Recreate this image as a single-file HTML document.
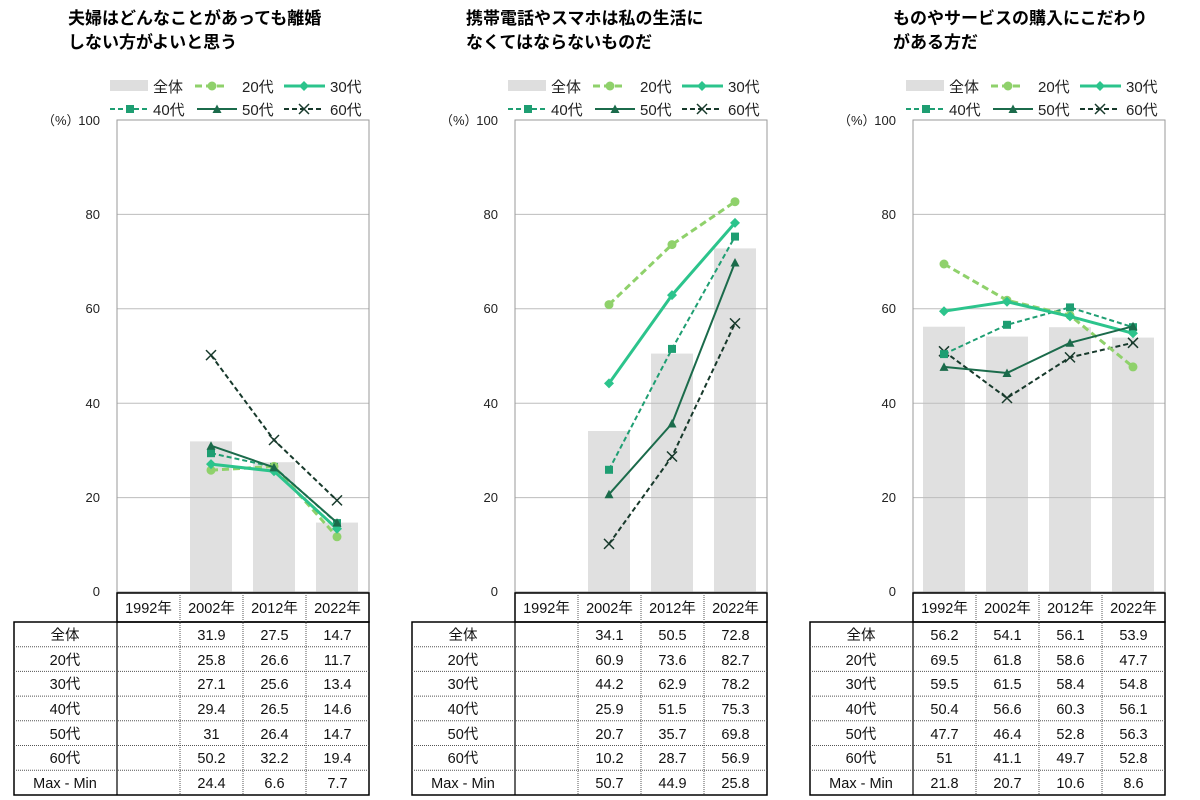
<!DOCTYPE html>
<html><head><meta charset="utf-8"><style>
body{margin:0;background:#fff;}
svg{display:block;font-family:"Liberation Sans","Noto Sans CJK JP",sans-serif;}
.t{font-size:17px;font-weight:bold;fill:#000}
.lg{font-size:15px;fill:#222}
.ax{font-size:13px;fill:#222}
.tb{font-size:14.5px;fill:#111}
</style></head><body>
<svg width="1200" height="800" viewBox="0 0 1200 800">
<defs>
<marker id="m20" markerUnits="userSpaceOnUse" markerWidth="12" markerHeight="12" refX="6" refY="6"><circle cx="6" cy="6" r="4.5" fill="#8fd16b"/></marker>
<marker id="m30" markerUnits="userSpaceOnUse" markerWidth="12" markerHeight="12" refX="6" refY="6"><path d="M6 1L11 6L6 11L1 6Z" fill="#2cc48c"/></marker>
<marker id="m40" markerUnits="userSpaceOnUse" markerWidth="12" markerHeight="12" refX="6" refY="6"><rect x="2" y="2" width="8" height="8" fill="#1e9e72"/></marker>
<marker id="m50" markerUnits="userSpaceOnUse" markerWidth="12" markerHeight="12" refX="6" refY="6"><path d="M6 1.5L10.5 10H1.5Z" fill="#1b6b4b"/></marker>
<marker id="m60" markerUnits="userSpaceOnUse" markerWidth="14" markerHeight="14" refX="7" refY="7"><path d="M2 2L12 12M12 2L2 12" stroke="#17392b" stroke-width="1.5"/></marker>
<g id="frame">
<line x1="117" y1="214.4" x2="369" y2="214.4" stroke="#bdbdbd"/>
<line x1="117" y1="308.8" x2="369" y2="308.8" stroke="#bdbdbd"/>
<line x1="117" y1="403.2" x2="369" y2="403.2" stroke="#bdbdbd"/>
<line x1="117" y1="497.6" x2="369" y2="497.6" stroke="#bdbdbd"/>
<rect x="117" y="120" width="252" height="472" fill="none" stroke="#9a9a9a"/>
<text class="ax" x="100" y="125" text-anchor="end">100</text>
<text class="ax" x="100" y="219" text-anchor="end">80</text>
<text class="ax" x="100" y="313" text-anchor="end">60</text>
<text class="ax" x="100" y="408" text-anchor="end">40</text>
<text class="ax" x="100" y="502" text-anchor="end">20</text>
<text class="ax" x="100" y="596" text-anchor="end">0</text>
<text class="ax" x="42" y="125" fill="#555">（%）</text>
<rect x="110" y="80" width="38" height="11" fill="#dedede"/>
<text class="lg" x="153" y="92">全体</text>
<line x1="195" y1="86" x2="228" y2="86" stroke="#8fd16b" stroke-width="3" stroke-dasharray="7,4" marker-mid="url(#m20)"/>
<polyline points="195,86 212,86 228,86" fill="none" stroke="#8fd16b" stroke-width="3" stroke-dasharray="7,4" marker-mid="url(#m20)"/>
<text class="lg" x="242" y="92">20代</text>
<polyline points="284,86 304,86 325,86" fill="none" stroke="#2cc48c" stroke-width="3" marker-mid="url(#m30)"/>
<text class="lg" x="330" y="92">30代</text>
<polyline points="110,109 130,109 150,109" fill="none" stroke="#1e9e72" stroke-width="2" stroke-dasharray="5,3" marker-mid="url(#m40)"/>
<text class="lg" x="153" y="115">40代</text>
<polyline points="197,109 217,109 237,109" fill="none" stroke="#1b6b4b" stroke-width="2" marker-mid="url(#m50)"/>
<text class="lg" x="242" y="115">50代</text>
<polyline points="284,109 304,109 324,109" fill="none" stroke="#17392b" stroke-width="2" stroke-dasharray="5,3" marker-mid="url(#m60)"/>
<text class="lg" x="330" y="115">60代</text>
<!-- table -->
<rect x="117" y="593" width="252" height="29" fill="none" stroke="#000" stroke-width="1.5"/>
<rect x="14" y="622" width="355" height="173" fill="none" stroke="#000" stroke-width="1.5"/>
<line x1="117" y1="622" x2="117" y2="795" stroke="#000" stroke-width="1.2"/>
<g stroke="#555" stroke-dasharray="1,1">
<line x1="180" y1="593" x2="180" y2="795"/><line x1="243" y1="593" x2="243" y2="795"/><line x1="306" y1="593" x2="306" y2="795"/>
<line x1="14" y1="646.7" x2="369" y2="646.7"/><line x1="14" y1="671.4" x2="369" y2="671.4"/><line x1="14" y1="696.1" x2="369" y2="696.1"/><line x1="14" y1="720.8" x2="369" y2="720.8"/><line x1="14" y1="745.5" x2="369" y2="745.5"/><line x1="14" y1="770.2" x2="369" y2="770.2"/>
</g>
<g class="tb" text-anchor="middle">
<text x="148.5" y="613">1992年</text><text x="211.5" y="613">2002年</text><text x="274.5" y="613">2012年</text><text x="337.5" y="613">2022年</text>
<text x="65" y="640">全体</text><text x="65" y="665">20代</text><text x="65" y="689">30代</text><text x="65" y="714">40代</text><text x="65" y="739">50代</text><text x="65" y="763">60代</text><text x="65" y="788">Max - Min</text>
</g>
</g>
</defs>

<!-- Panel 1 -->
<text class="t" x="68" y="24">夫婦はどんなことがあっても離婚</text>
<text class="t" x="68" y="48">しない方がよいと思う</text>
<rect x="190" y="441.4" width="42" height="150.6" fill="#e0e0e0"/>
<rect x="253" y="462.2" width="42" height="129.8" fill="#e0e0e0"/>
<rect x="316" y="522.6" width="42" height="69.4" fill="#e0e0e0"/>
<use href="#frame"/>
<polyline points="211,355.1 274,440 337,500.4" fill="none" stroke="#17392b" stroke-width="2" stroke-dasharray="5,3" marker-start="url(#m60)" marker-mid="url(#m60)" marker-end="url(#m60)"/>
<polyline points="211,453.2 274,466.9 337,523.1" fill="none" stroke="#1e9e72" stroke-width="2" stroke-dasharray="5,3" marker-start="url(#m40)" marker-mid="url(#m40)" marker-end="url(#m40)"/>
<polyline points="211,470.2 274,466.4 337,536.8" fill="none" stroke="#8fd16b" stroke-width="3" stroke-dasharray="7,4" marker-start="url(#m20)" marker-mid="url(#m20)" marker-end="url(#m20)"/>
<polyline points="211,464.1 274,471.2 337,528.8" fill="none" stroke="#2cc48c" stroke-width="3" marker-start="url(#m30)" marker-mid="url(#m30)" marker-end="url(#m30)"/>
<polyline points="211,445.7 274,467.4 337,522.6" fill="none" stroke="#1b6b4b" stroke-width="2" marker-start="url(#m50)" marker-mid="url(#m50)" marker-end="url(#m50)"/>
<g class="tb" text-anchor="middle">
<text x="211.5" y="640">31.9</text><text x="274.5" y="640">27.5</text><text x="337.5" y="640">14.7</text>
<text x="211.5" y="665">25.8</text><text x="274.5" y="665">26.6</text><text x="337.5" y="665">11.7</text>
<text x="211.5" y="689">27.1</text><text x="274.5" y="689">25.6</text><text x="337.5" y="689">13.4</text>
<text x="211.5" y="714">29.4</text><text x="274.5" y="714">26.5</text><text x="337.5" y="714">14.6</text>
<text x="211.5" y="739">31</text><text x="274.5" y="739">26.4</text><text x="337.5" y="739">14.7</text>
<text x="211.5" y="763">50.2</text><text x="274.5" y="763">32.2</text><text x="337.5" y="763">19.4</text>
<text x="211.5" y="788">24.4</text><text x="274.5" y="788">6.6</text><text x="337.5" y="788">7.7</text>
</g>

<!-- Panel 2 -->
<g transform="translate(398,0)">
<text class="t" x="68" y="24">携帯電話やスマホは私の生活に</text>
<text class="t" x="68" y="48">なくてはならないものだ</text>
<rect x="190" y="431" width="42" height="161" fill="#e0e0e0"/>
<rect x="253" y="353.6" width="42" height="238.4" fill="#e0e0e0"/>
<rect x="316" y="248.4" width="42" height="343.6" fill="#e0e0e0"/>
<use href="#frame"/>
<polyline points="211,543.9 274,456.5 337,323.4" fill="none" stroke="#17392b" stroke-width="2" stroke-dasharray="5,3" marker-start="url(#m60)" marker-mid="url(#m60)" marker-end="url(#m60)"/>
<polyline points="211,469.8 274,348.9 337,236.6" fill="none" stroke="#1e9e72" stroke-width="2" stroke-dasharray="5,3" marker-start="url(#m40)" marker-mid="url(#m40)" marker-end="url(#m40)"/>
<polyline points="211,304.6 274,244.6 337,201.7" fill="none" stroke="#8fd16b" stroke-width="3" stroke-dasharray="7,4" marker-start="url(#m20)" marker-mid="url(#m20)" marker-end="url(#m20)"/>
<polyline points="211,383.4 274,295.1 337,222.9" fill="none" stroke="#2cc48c" stroke-width="3" marker-start="url(#m30)" marker-mid="url(#m30)" marker-end="url(#m30)"/>
<polyline points="211,494.3 274,423.5 337,262.5" fill="none" stroke="#1b6b4b" stroke-width="2" marker-start="url(#m50)" marker-mid="url(#m50)" marker-end="url(#m50)"/>
<g class="tb" text-anchor="middle">
<text x="211.5" y="640">34.1</text><text x="274.5" y="640">50.5</text><text x="337.5" y="640">72.8</text>
<text x="211.5" y="665">60.9</text><text x="274.5" y="665">73.6</text><text x="337.5" y="665">82.7</text>
<text x="211.5" y="689">44.2</text><text x="274.5" y="689">62.9</text><text x="337.5" y="689">78.2</text>
<text x="211.5" y="714">25.9</text><text x="274.5" y="714">51.5</text><text x="337.5" y="714">75.3</text>
<text x="211.5" y="739">20.7</text><text x="274.5" y="739">35.7</text><text x="337.5" y="739">69.8</text>
<text x="211.5" y="763">10.2</text><text x="274.5" y="763">28.7</text><text x="337.5" y="763">56.9</text>
<text x="211.5" y="788">50.7</text><text x="274.5" y="788">44.9</text><text x="337.5" y="788">25.8</text>
</g>
</g>

<!-- Panel 3 -->
<g transform="translate(796,0)">
<text class="t" x="97" y="24">ものやサービスの購入にこだわり</text>
<text class="t" x="97" y="48">がある方だ</text>
<rect x="127" y="326.7" width="42" height="265.3" fill="#e0e0e0"/>
<rect x="190" y="336.6" width="42" height="255.4" fill="#e0e0e0"/>
<rect x="253" y="327.2" width="42" height="264.8" fill="#e0e0e0"/>
<rect x="316" y="337.6" width="42" height="254.4" fill="#e0e0e0"/>
<use href="#frame"/>
<polyline points="148,351.3 211,398 274,357.4 337,342.8" fill="none" stroke="#17392b" stroke-width="2" stroke-dasharray="5,3" marker-start="url(#m60)" marker-mid="url(#m60)" marker-end="url(#m60)"/>
<polyline points="148,354.1 211,324.8 274,307.4 337,327.2" fill="none" stroke="#1e9e72" stroke-width="2" stroke-dasharray="5,3" marker-start="url(#m40)" marker-mid="url(#m40)" marker-end="url(#m40)"/>
<polyline points="148,264 211,300.3 274,315.4 337,366.9" fill="none" stroke="#8fd16b" stroke-width="3" stroke-dasharray="7,4" marker-start="url(#m20)" marker-mid="url(#m20)" marker-end="url(#m20)"/>
<polyline points="148,311.2 211,301.7 274,316.4 337,333.3" fill="none" stroke="#2cc48c" stroke-width="3" marker-start="url(#m30)" marker-mid="url(#m30)" marker-end="url(#m30)"/>
<polyline points="148,366.9 211,373 274,342.8 337,326.3" fill="none" stroke="#1b6b4b" stroke-width="2" marker-start="url(#m50)" marker-mid="url(#m50)" marker-end="url(#m50)"/>
<g class="tb" text-anchor="middle">
<text x="148.5" y="640">56.2</text><text x="211.5" y="640">54.1</text><text x="274.5" y="640">56.1</text><text x="337.5" y="640">53.9</text>
<text x="148.5" y="665">69.5</text><text x="211.5" y="665">61.8</text><text x="274.5" y="665">58.6</text><text x="337.5" y="665">47.7</text>
<text x="148.5" y="689">59.5</text><text x="211.5" y="689">61.5</text><text x="274.5" y="689">58.4</text><text x="337.5" y="689">54.8</text>
<text x="148.5" y="714">50.4</text><text x="211.5" y="714">56.6</text><text x="274.5" y="714">60.3</text><text x="337.5" y="714">56.1</text>
<text x="148.5" y="739">47.7</text><text x="211.5" y="739">46.4</text><text x="274.5" y="739">52.8</text><text x="337.5" y="739">56.3</text>
<text x="148.5" y="763">51</text><text x="211.5" y="763">41.1</text><text x="274.5" y="763">49.7</text><text x="337.5" y="763">52.8</text>
<text x="148.5" y="788">21.8</text><text x="211.5" y="788">20.7</text><text x="274.5" y="788">10.6</text><text x="337.5" y="788">8.6</text>
</g>
</g>
</svg>
</body></html>
